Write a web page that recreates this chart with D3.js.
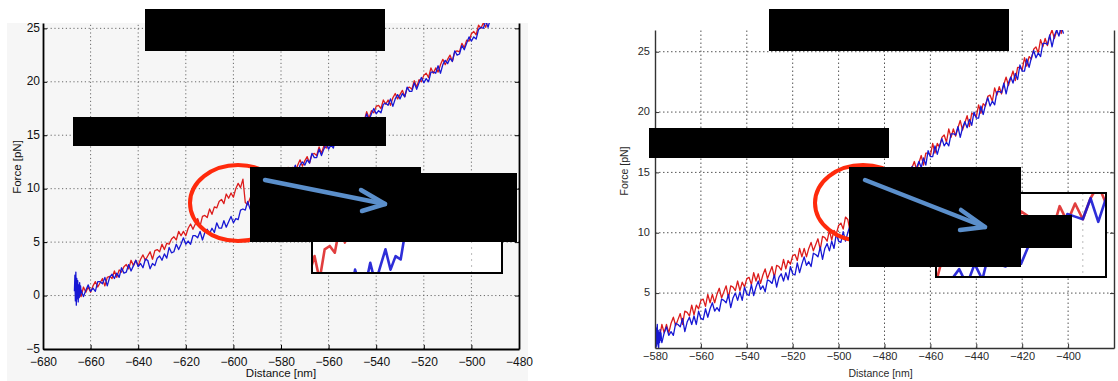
<!DOCTYPE html>
<html>
<head>
<meta charset="utf-8">
<script src="https://cdn.jsdelivr.net/npm/d3@7"></script>
<style>
  body { margin: 0; background: #fff; }
  svg { display: block; }
  text { font-family: "Liberation Sans", Arial, Helvetica, sans-serif; }
</style>
</head>
<body>
<svg id="fig" width="1118" height="381"></svg>
<script>
// ---------------------------------------------------------------
// Force–distance traces, sampled every 1 nm.
// Red: stretching curve, blue: relaxation curve.
// ---------------------------------------------------------------

// Panel A (left)
const leftStart = -665;            // distance of first sample [nm]
const leftRed = [
  0.3,-0.1,0.8,0.3,0.8,0.3,0.9,1.3,0.8,1.2,
  1.6,0.9,1.7,1.8,1.6,2.3,1.7,2.4,2.2,2.7,
  2.9,2.5,3.3,2.8,3.3,2.8,3.4,3.8,3.3,3.7,
  4.1,3.4,4.2,4.3,4.1,4.8,4.3,4.9,4.8,5.3,
  5.5,5.2,6.0,5.6,6.0,5.6,6.3,6.7,6.2,6.7,
  7.2,6.5,7.4,7.5,7.3,8.1,7.6,8.3,8.2,8.8,
  9.0,8.6,9.5,9.1,9.6,9.2,10.0,10.5,10.1,10.9,
  8.7,
  8.5,9.1,9.6,9.0,9.5,10.0,9.3,10.2,10.2,10.1,
  10.9,10.3,11.0,10.8,11.4,11.5,11.2,12.0,11.6,12.0,
  11.6,12.2,12.7,12.1,12.6,13.0,12.4,13.2,13.3,13.1,
  13.9,13.3,14.0,13.8,14.4,14.6,14.2,15.1,14.6,15.1,
  14.7,15.3,15.8,15.3,15.8,16.2,15.6,16.5,16.5,16.4,
  17.2,16.6,17.3,17.1,17.7,17.8,17.5,18.3,17.9,18.3,
  17.8,18.5,18.9,18.4,18.8,19.2,18.6,19.4,19.5,19.3,
  20.1,19.5,20.2,20.0,20.6,20.8,20.4,21.3,20.8,21.3,
  20.9,21.6,22.1,21.6,22.1,22.5,21.9,22.8,22.9,22.8,
  23.6,23.2,23.9,23.8,24.5,24.7,24.4,25.3,25.0,25.5,
  25.1,25.9,26.4
];
const leftBlue = [
  -0.2,0.5,-0.1,0.5,1.0,0.4,0.7,0.4,1.3,1.3,
  1.1,1.7,0.9,1.7,2.0,1.6,2.1,1.7,2.6,2.1,
  2.2,2.9,2.3,2.8,3.3,2.7,3.0,2.6,3.4,3.3,
  2.5,3.0,2.8,3.5,3.7,3.3,3.9,3.5,4.5,4.0,
  4.1,4.8,4.3,4.8,5.4,4.8,5.1,4.8,5.6,5.6,
  5.4,6.0,5.2,5.9,6.2,5.8,6.3,5.9,6.8,6.3,
  6.3,7.0,6.4,6.9,7.4,6.8,7.2,7.1,8.0,8.1,
  8.0,8.8,8.1,8.9,9.3,8.9,9.5,9.2,10.2,9.8,
  9.9,10.7,10.1,10.7,11.2,10.7,11.0,10.8,11.6,11.7,
  11.5,12.2,11.4,12.2,12.5,12.2,12.7,12.4,13.3,12.9,
  12.9,13.7,13.1,13.7,14.2,13.7,14.1,13.8,14.7,14.7,
  14.6,15.3,14.5,15.3,15.7,15.4,15.9,15.6,16.6,16.1,
  16.2,17.0,16.4,17.0,17.5,17.0,17.3,17.1,17.9,18.0,
  17.8,18.4,17.7,18.4,18.8,18.4,18.9,18.6,19.5,19.1,
  19.1,19.9,19.3,19.9,20.4,19.9,20.3,20.0,20.9,20.9,
  20.8,21.5,20.8,21.6,22.0,21.7,22.2,21.9,22.9,22.5,
  22.6,23.4,23.0,23.6,24.2,23.8,24.2,24.0,24.9,25.1,
  25.0,25.7,25.1,25.9
];
// dense samples recorded at surface contact [distance nm, force pN]
const leftBlueContact = [
  [-666.8,0.4],[-666.6,1.9],[-666.4,-0.5],[-666.2,2.2],[-666.0,-0.9],
  [-665.8,1.6],[-665.6,-0.3],[-665.4,1.4],[-665.2,-0.6],[-665.0,1.0],
  [-664.8,-0.2],[-664.6,1.2],[-664.4,0.0],[-664.2,0.9],[-664.0,0.2]
];
const leftXTicks = [-680,-660,-640,-620,-600,-580,-560,-540,-520,-500,-480];
const leftYTicks = [-5,0,5,10,15,20,25];

// Panel B (right)
const rightStart = -579;
const rightRed = [
  1.9,1.3,2.4,1.7,2.4,1.7,2.5,3.0,2.3,2.8,
  3.3,2.4,3.5,3.4,3.1,4.0,3.2,4.0,3.7,4.4,
  4.5,3.9,4.9,4.2,4.9,4.2,4.9,5.4,4.6,5.1,
  5.6,4.6,5.6,5.5,5.2,6.0,5.2,5.9,5.5,6.2,
  6.3,5.7,6.7,6.0,6.6,5.8,6.5,7.0,6.2,6.7,
  7.2,6.3,7.3,7.2,6.9,7.8,7.0,7.7,7.4,8.1,
  8.2,7.7,8.7,8.0,8.7,8.0,8.7,9.2,8.5,9.0,
  9.5,8.6,9.7,9.6,9.3,10.2,9.4,10.2,9.9,10.6,
  10.8,10.3,11.3,11.1,10.1,11.0,10.5,11.5,10.9,11.6,
  11.0,11.8,12.3,11.6,12.2,12.8,12.0,13.0,13.0,12.8,
  13.8,13.1,13.8,13.6,14.4,14.6,14.1,15.1,14.5,15.2,
  14.6,15.4,15.9,15.2,15.8,16.4,15.6,16.6,16.6,16.4,
  17.4,16.6,17.4,17.1,17.9,18.1,17.5,18.6,17.9,18.6,
  18.0,18.7,19.3,18.5,19.1,19.7,18.8,19.9,19.8,19.6,
  20.6,19.9,20.7,20.5,21.3,21.4,20.9,22.0,21.4,22.1,
  21.5,22.3,22.9,22.2,22.8,23.4,22.6,23.7,23.7,23.5,
  24.5,23.8,24.6,24.4,25.2,25.4,24.9,26.0,25.4,26.1,
  25.5,26.3,26.8,26.1,26.7,27.3,26.5,27.5
];
const rightBlue = [
  0.8,1.7,0.9,1.7,2.2,1.5,1.8,1.5,2.5,2.4,
  2.2,2.9,1.8,2.6,3.0,2.4,3.1,2.4,3.5,2.9,
  2.8,3.7,3.0,3.7,4.2,3.5,3.8,3.5,4.5,4.4,
  4.2,4.9,3.8,4.6,5.0,4.4,5.1,4.4,5.5,4.9,
  4.8,5.7,4.8,5.5,6.0,5.3,5.6,5.1,6.1,6.0,
  5.8,6.5,5.5,6.3,6.6,6.0,6.7,6.1,7.2,6.6,
  6.5,7.5,6.7,7.4,8.0,7.3,7.6,7.2,8.3,8.2,
  8.0,8.8,7.8,8.7,9.1,8.5,9.3,8.7,9.9,9.3,
  9.2,10.1,9.3,10.0,10.6,10.0,10.4,10.1,11.2,11.1,
  11.0,11.8,10.9,11.8,12.3,11.8,12.6,12.0,13.2,12.7,
  12.7,13.7,12.9,13.7,14.3,13.7,14.1,13.7,14.8,14.8,
  14.7,15.5,14.5,15.4,15.9,15.4,16.2,15.6,16.8,16.3,
  16.3,17.2,16.5,17.2,17.8,17.2,17.5,17.2,18.2,18.2,
  18.1,18.8,17.9,18.7,19.2,18.7,19.4,18.9,20.0,19.5,
  19.5,20.5,19.8,20.6,21.2,20.5,20.9,20.6,21.7,21.7,
  21.6,22.4,21.5,22.4,22.9,22.4,23.2,22.7,23.9,23.4,
  23.4,24.4,23.7,24.5,25.1,24.5,24.9,24.6,25.7,25.7,
  25.6,26.4,25.4,26.3,26.8,26.3,27.1,26.5
];
const rightBlueContact = [
  [-580.0,0.6],[-579.8,2.3],[-579.6,0.5],[-579.4,2.1],[-579.2,0.6],
  [-579.0,2.4],[-578.8,0.8],[-578.6,1.9],[-578.4,0.5],[-578.2,1.7],
  [-578.0,0.9],[-577.8,2.0],[-577.6,1.1],[-577.4,1.7],[-577.2,1.2]
];
const rightXTicks = [-580,-560,-540,-520,-500,-480,-460,-440,-420,-400];
const rightYTicks = [5,10,15,20,25];

const RED = "#dc1c1c";
const BLUE = "#1717d4";

// ---------------------------------------------------------------
const svg = d3.select("#fig");
const defs = svg.append("defs");

const series = (start, forces) => forces.map((f, i) => [start + i, f]);

function drawPanel(p) {
  const x = d3.scaleLinear().domain(p.xDomain).range(p.xRange);
  const y = d3.scaleLinear().domain(p.yDomain).range(p.yRange);
  const [xl, xr] = p.xRange, [yb, yt] = p.yRange;
  const g = svg.append("g");

  if (p.figBg) {
    g.append("rect").attr("x", p.figBg[0]).attr("y", p.figBg[1])
      .attr("width", p.figBg[2]).attr("height", p.figBg[3]).attr("fill", p.bg);
  }

  const clipId = "clip-" + p.id;
  defs.append("clipPath").attr("id", clipId).append("rect")
    .attr("x", xl).attr("y", yt).attr("width", xr - xl).attr("height", yb - yt);

  // dotted grid
  const grid = g.append("g").attr("stroke", p.gridColor)
    .attr("stroke-width", 1).attr("stroke-dasharray", p.gridDash);
  grid.selectAll("line.v").data(p.xTicks.filter(t => t > p.xDomain[0] && t < p.xDomain[1]))
    .join("line").attr("class", "v")
    .attr("x1", d => x(d)).attr("x2", d => x(d)).attr("y1", yb).attr("y2", yt);
  grid.selectAll("line.h").data(p.yTicks.filter(t => t > p.yDomain[0] && t < p.yDomain[1]))
    .join("line").attr("class", "h")
    .attr("x1", xl).attr("x2", xr).attr("y1", d => y(d)).attr("y2", d => y(d));

  // traces
  const line = d3.line().x(d => x(d[0])).y(d => y(d[1]));
  const tr = g.append("g").attr("clip-path", `url(#${clipId})`)
    .attr("fill", "none").attr("stroke-linejoin", "round");
  tr.append("path").datum(series(p.start, p.red)).attr("d", line)
    .attr("stroke", RED).attr("stroke-width", 1.3);
  tr.append("path").datum(series(p.start, p.blue)).attr("d", line)
    .attr("stroke", BLUE).attr("stroke-width", 1.3);
  tr.append("path").datum(p.contact).attr("d", line)
    .attr("stroke", BLUE).attr("stroke-width", 1.3);

  // axes (MATLAB style: ticks pointing inwards, box on three visible sides)
  const styleAxis = (sel, a) => {
    sel.select(".domain").attr("stroke", a.color).attr("stroke-width", a.width);
    sel.selectAll(".tick line").attr("stroke", a.color).attr("stroke-width", 1);
    sel.selectAll(".tick text").attr("fill", a.text).style("font-size", a.size + "px");
  };
  const ax = { color: p.axisColor, width: p.axisWidth, text: p.textColor, size: p.fontSize };

  g.append("g").attr("transform", `translate(0,${yb})`)
    .call(d3.axisBottom(x).tickValues(p.xTicks).tickSizeInner(-4).tickSizeOuter(0).tickPadding(p.xPad))
    .call(s => styleAxis(s, ax));
  g.append("g").attr("transform", `translate(${xl},0)`)
    .call(d3.axisLeft(y).tickValues(p.yTicks).tickSizeInner(-4).tickSizeOuter(0).tickPadding(p.yPad))
    .call(s => styleAxis(s, ax))
    .call(s => s.selectAll(".tick text").attr("dy", "0.26em"));
  g.append("g").attr("transform", `translate(${xr},0)`)
    .call(d3.axisRight(y).tickValues(p.yTicks).tickSizeInner(-4).tickSizeOuter(0).tickFormat(""))
    .call(s => styleAxis(s, ax));

  // axis titles
  g.append("text").attr("x", (xl + xr) / 2 + p.xTitleShift).attr("y", p.xTitleY)
    .attr("text-anchor", "middle").attr("fill", p.textColor)
    .style("font-size", p.titleSize + "px").text("Distance [nm]");
  g.append("text")
    .attr("transform", `translate(${p.yTitleX},${p.yTitleY}) rotate(-90)`)
    .attr("text-anchor", "middle").attr("fill", p.textColor)
    .style("font-size", p.titleSize + "px").text("Force [pN]");

  return { x, y };
}

// magnified view of the rupture event
function drawInset(q) {
  const x = d3.scaleLinear().domain(q.xDomain).range([q.box[0], q.box[0] + q.box[2]]);
  const y = d3.scaleLinear().domain(q.yDomain).range([q.box[1] + q.box[3], q.box[1]]);
  const clipId = "clip-" + q.id;
  defs.append("clipPath").attr("id", clipId).append("rect")
    .attr("x", q.box[0]).attr("y", q.box[1]).attr("width", q.box[2]).attr("height", q.box[3]);
  const g = svg.append("g");
  g.append("rect").attr("x", q.box[0]).attr("y", q.box[1])
    .attr("width", q.box[2]).attr("height", q.box[3]).attr("fill", "#fff");
  const inner = g.append("g").attr("clip-path", `url(#${clipId})`)
    .attr("fill", "none").attr("stroke-linejoin", "round");
  inner.selectAll("line.grid").data(q.grid).join("line")
    .attr("x1", d => x(d)).attr("x2", d => x(d))
    .attr("y1", q.box[1]).attr("y2", q.box[1] + q.box[3])
    .attr("stroke", "#bbb").attr("stroke-dasharray", "2,4");
  const line = d3.line().x(d => x(d[0])).y(d => y(d[1]));
  inner.append("path").datum(series(q.start, q.red)).attr("d", line)
    .attr("stroke", RED).attr("stroke-width", 2.6).attr("opacity", 0.85);
  inner.append("path").datum(series(q.start, q.blue)).attr("d", line)
    .attr("stroke", BLUE).attr("stroke-width", 2.6).attr("opacity", 0.9);
  g.append("rect").attr("x", q.box[0]).attr("y", q.box[1])
    .attr("width", q.box[2]).attr("height", q.box[3])
    .attr("fill", "none").attr("stroke", "#000").attr("stroke-width", 2);
}

// ---- Panel A ----
drawPanel({
  id: "a", start: leftStart, red: leftRed, blue: leftBlue, contact: leftBlueContact,
  xDomain: [-680, -480], xRange: [43, 519],
  yDomain: [-5, 25.5], yRange: [349, 23],
  xTicks: leftXTicks, yTicks: leftYTicks,
  figBg: [7, 23, 521, 358], bg: "#f6f6f6",
  gridColor: "#6a6a6a", gridDash: "1.2,2.6",
  axisColor: "#000", axisWidth: 1.8, textColor: "#111", fontSize: 12,
  xPad: 8, yPad: 3, titleSize: 11.5,
  xTitleShift: 0, xTitleY: 377, yTitleX: 21, yTitleY: 167
});

// ---- Panel B ----
drawPanel({
  id: "b", start: rightStart, red: rightRed, blue: rightBlue, contact: rightBlueContact,
  xDomain: [-580, -380], xRange: [655, 1114],
  yDomain: [0.45, 26.8], yRange: [348, 30],
  xTicks: rightXTicks, yTicks: rightYTicks,
  figBg: null, bg: "#fff",
  gridColor: "#555", gridDash: "1.5,2.5",
  axisColor: "#333", axisWidth: 1.4, textColor: "#2a2a2a", fontSize: 11,
  xPad: 4, yPad: 5, titleSize: 10.5,
  xTitleShift: -4, xTitleY: 377, yTitleX: 628, yTitleY: 171
});

// ---- annotations ----
// circled rupture event
const ruptureRings = [
  { cx: 238, cy: 203, rx: 48, ry: 38 },
  { cx: 863, cy: 203, rx: 48, ry: 38 }
];
svg.append("g").selectAll("ellipse").data(ruptureRings).join("ellipse")
  .attr("cx", d => d.cx).attr("cy", d => d.cy).attr("rx", d => d.rx).attr("ry", d => d.ry)
  .attr("fill", "none").attr("stroke", "#ff2a0c").attr("stroke-width", 4);

drawInset({
  id: "ia", box: [312, 175, 190, 98], start: leftStart, red: leftRed, blue: leftBlue,
  xDomain: [-615.5, -578], yDomain: [6.7, 9.6], grid: [-584]
});
drawInset({
  id: "ib", box: [936, 193, 170, 84], start: rightStart, red: rightRed, blue: rightBlue,
  xDomain: [-508, -486], yDomain: [8.8, 12.0], grid: [-489]
});

// redacted text blocks
const redactions = [
  [145, 9, 240, 42], [73, 117, 313, 29], [250, 167, 171, 75], [421, 173, 96, 69],
  [769, 9, 240, 42], [649, 128, 240, 30], [849, 167, 172, 100], [1021, 215, 51, 33]
];
svg.append("g").selectAll("rect").data(redactions).join("rect")
  .attr("x", d => d[0]).attr("y", d => d[1]).attr("width", d => d[2]).attr("height", d => d[3])
  .attr("fill", "#000");

// arrows pointing to the magnified views
const arrows = [
  { shaft: [[265, 180], [385, 204]], head: [[361, 190], [385, 204], [362, 211]] },
  { shaft: [[865, 180], [985, 227]], head: [[961, 210], [985, 227], [960, 230]] }
];
const arrowG = svg.append("g").attr("fill", "none").attr("stroke", "#5b8fcb")
  .attr("stroke-width", 4.5).attr("stroke-linecap", "round").attr("stroke-linejoin", "round");
arrowG.selectAll("path.shaft").data(arrows).join("path").attr("class", "shaft")
  .attr("d", d => d3.line()(d.shaft));
arrowG.selectAll("path.head").data(arrows).join("path").attr("class", "head")
  .attr("d", d => d3.line()(d.head));
</script>
</body>
</html>
